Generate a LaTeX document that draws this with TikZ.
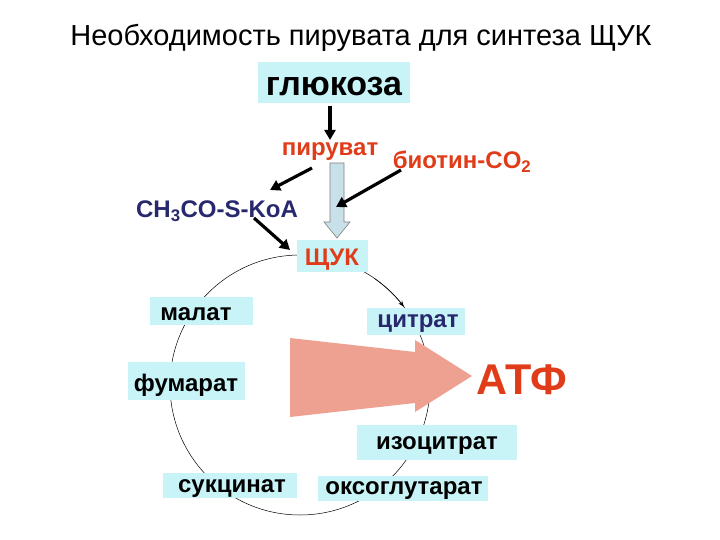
\documentclass[tikz,border=0pt]{standalone}
\usepackage{fontspec}
\setmainfont{Liberation Sans}
\usetikzlibrary{arrows.meta}
\definecolor{boxc}{RGB}{200,244,248}
\definecolor{navy}{RGB}{40,40,110}
\definecolor{redc}{RGB}{225,60,25}
\definecolor{salmon}{RGB}{238,160,145}
\definecolor{pale}{RGB}{200,225,232}
\tikzset{
 bx/.style={fill=boxc,inner sep=0pt,anchor=center},
 lbl/.style={font=\bfseries\fontsize{24}{26}\selectfont,yshift=-4pt},
 blk/.style={line width=3.2pt,-{Triangle[length=10pt,width=11pt]}},
}
\begin{document}
\begin{tikzpicture}[x=1pt,y=-1pt]
\useasboundingbox (0,0) rectangle (720,540);
\fill[white] (0,0) rectangle (720,540);
\node (title) at (361,38) {\fontsize{29}{32}\selectfont Необходимость пирувата для синтеза ЩУК};
% circle
\draw[line width=0.5pt] (300,385) circle[radius=130pt];
\draw[line width=0.5pt,-{Stealth[length=6pt]}] (300,385) ++(55:130pt) arc[start angle=55,end angle=37,radius=130pt];
% big arrow
\fill[salmon] (290,338) -- (415,352) -- (415,403) -- (290,417) -- cycle;
\fill[salmon] (415,340) -- (472,376) -- (415,412) -- cycle;
% boxes
\node[bx,minimum width=152pt,minimum height=41pt] (glu) at (334,83) {};
\node[font=\bfseries\fontsize{34}{36}\selectfont] at (334,87) {глюкоза};
\node[lbl,redc] (pyr) at (330,148) {пируват};
\node[lbl,redc] (bio) at (462,158) {биотин-CO\textsubscript{2}};
\node[lbl,navy] (acoa) at (217,207) {CH\textsubscript{3}CO-S-KoA};
\node[bx,minimum width=71pt,minimum height=32pt] (oaa) at (332,256) {};
\node[lbl,redc] at (332,256) {ЩУК};
\node[bx,minimum width=103pt,minimum height=28pt] (mal) at (201,311) {};
\node[lbl] at (196,310) {малат};
\node[bx,minimum width=98pt,minimum height=27pt] (cit) at (416,321) {};
\node[lbl,navy] at (418,320) {цитрат};
\node[bx,minimum width=117pt,minimum height=38pt] (fum) at (186,381) {};
\node[lbl] at (186,381) {фумарат};
\node[font=\bfseries\fontsize{43}{45}\selectfont,redc] (atp) at (522,380) {АТФ};
\node[bx,minimum width=160pt,minimum height=35pt] (iso) at (437,442) {};
\node[lbl] at (437,442) {изоцитрат};
\node[bx,minimum width=134pt,minimum height=25pt] (suc) at (230,485) {};
\node[lbl] at (232,485) {сукцинат};
\node[bx,minimum width=170pt,minimum height=25pt] (oxo) at (403,488) {};
\node[lbl] at (404,487) {оксоглутарат};
% pale arrow
\draw[gray,fill=pale,line width=0.6pt] (330,163) -- (344,163) -- (344,222) -- (350,222) -- (337,238) -- (324,222) -- (330,222) -- cycle;
% black arrows
\coordinate (bend) at (336,207);
\draw[blk] (330,106) -- (330,140);
\draw[blk] (312,168) -- (270,190);
\draw[blk] (401,170) -- (bend);
\draw[blk] (254,218) -- (290,250);
\end{tikzpicture}
\end{document}
